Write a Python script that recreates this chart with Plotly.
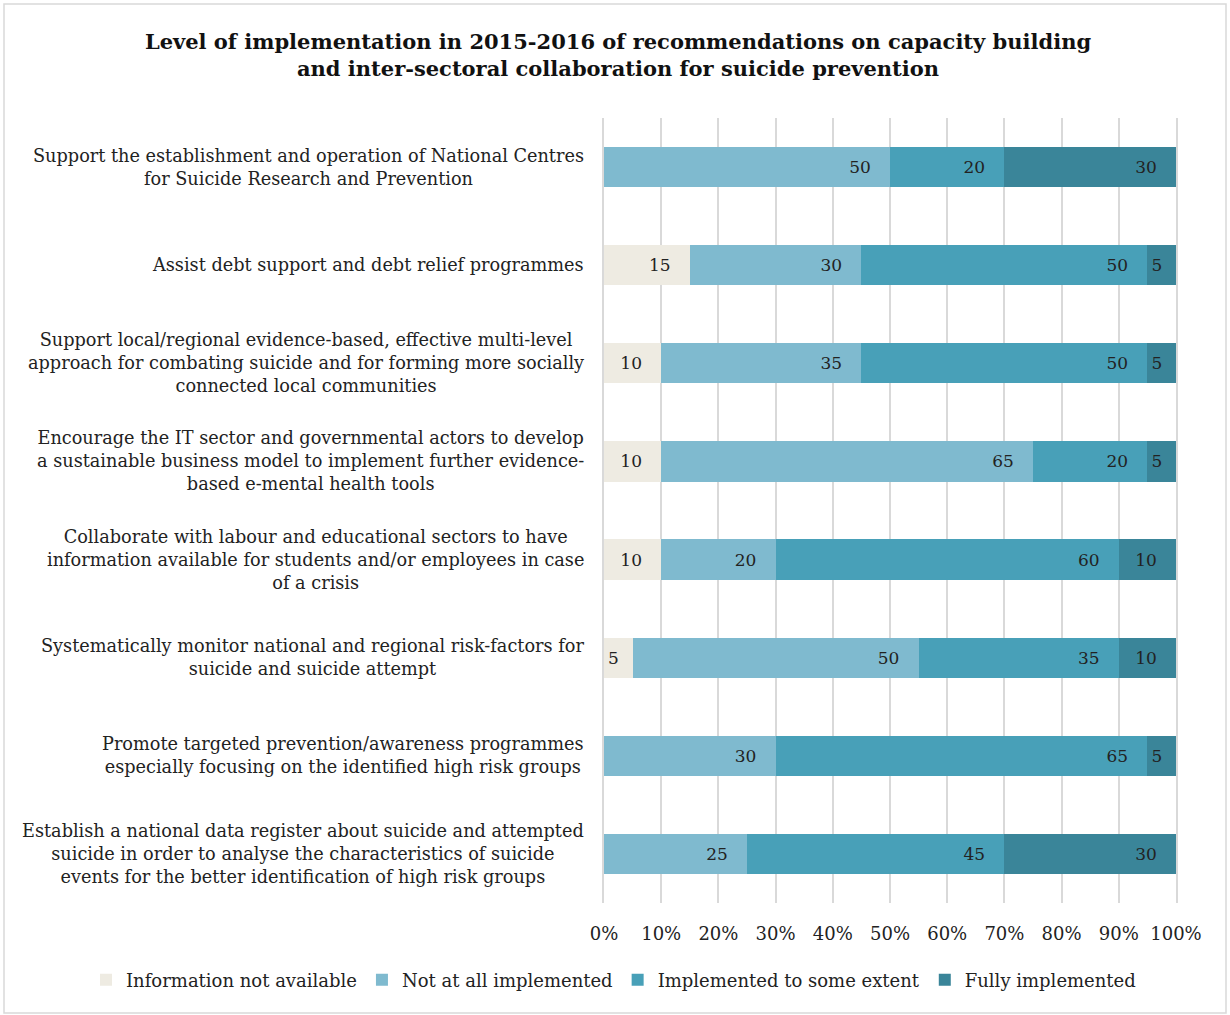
import plotly.graph_objects as go

categories = [
    "Support the establishment and operation of National Centres<br>for Suicide Research and Prevention",
    "Assist debt support and debt relief programmes",
    "Support local/regional evidence-based, effective multi-level<br>approach for combating suicide and for forming more socially<br>connected local communities",
    "Encourage the IT sector and governmental actors to develop<br>a sustainable business model to implement further evidence-<br>based e-mental health tools",
    "Collaborate with labour and educational sectors to have<br>information available for students and/or employees in case<br>of a crisis",
    "Systematically monitor national and regional risk-factors for<br>suicide and suicide attempt",
    "Promote targeted prevention/awareness programmes<br>especially focusing on the identified high risk groups",
    "Establish a national data register about suicide and attempted<br>suicide in order to analyse the characteristics of suicide<br>events for the better identification of high risk groups",
]

not_available = [0, 15, 10, 10, 10, 5, 0, 0]
not_at_all = [50, 30, 35, 65, 20, 50, 30, 25]
some_extent = [20, 50, 50, 20, 60, 35, 65, 45]
fully = [30, 5, 5, 5, 10, 10, 5, 30]

series = [
    ("Information not available", not_available, "#EEEBE2"),
    ("Not at all implemented", not_at_all, "#7FBACF"),
    ("Implemented to some extent", some_extent, "#48A0B8"),
    ("Fully implemented", fully, "#3A8599"),
]

FONT = "DejaVu Serif"
NBSP = "\u00a0"
GRID = "#D9D9D9"


def label(v):
    # value labels sit at the inner end of each segment with some right padding
    if not v:
        return ""
    return str(v) + NBSP * (3 if v >= 10 else 2)


fig = go.Figure()
for name, vals, color in series:
    fig.add_trace(go.Bar(
        name=name,
        y=categories,
        x=vals,
        orientation="h",
        marker=dict(color=color, line=dict(width=0)),
        text=[label(v) for v in vals],
        textposition="inside",
        insidetextanchor="end",
        textangle=0,
        textfont=dict(family=FONT, size=17, color="#222222"),
        hoverinfo="skip",
    ))

# category labels: multi-line blocks, lines centred within each block
for cat in categories:
    fig.add_annotation(
        text=cat, xref="paper", yref="y",
        x=-18 / 572, y=cat,
        xanchor="right", yanchor="middle", align="center",
        showarrow=False,
        font=dict(family=FONT, size=17.7, color="#222222"),
    )

fig.update_layout(
    barmode="stack",
    bargap=0.59,
    width=1230,
    height=1015,
    paper_bgcolor="white",
    plot_bgcolor="white",
    margin=dict(l=604, r=54, t=118, b=112, autoexpand=False),
    font=dict(family=FONT, size=18, color="#222222"),
    uniformtext=dict(minsize=17, mode="show"),
    title=dict(
        text="<b>Level of implementation in 2015-2016 of recommendations on capacity building<br>and inter-sectoral collaboration for suicide prevention</b>",
        x=618 / 1230, xref="container", xanchor="center",
        y=0.952, yref="container", yanchor="top",
        font=dict(family=FONT, size=21, color="#111111"),
    ),
    xaxis=dict(
        range=[0, 100],
        tickvals=[0, 10, 20, 30, 40, 50, 60, 70, 80, 90, 100],
        ticktext=[f"{v}%" for v in range(0, 101, 10)],
        showgrid=True, gridcolor=GRID, gridwidth=2,
        zeroline=False, showline=False,
        ticks="", ticklabelstandoff=18,
        tickfont=dict(family=FONT, size=18),
    ),
    yaxis=dict(
        autorange="reversed",
        showgrid=False, zeroline=False,
        showline=True, mirror=True, linecolor=GRID, linewidth=2,
        layer="below traces",
        ticks="", showticklabels=False,
    ),
    legend=dict(
        orientation="h",
        x=(86 - 604) / 572, xanchor="left",
        y=(903 - 980) / 785, yanchor="middle",
        font=dict(family=FONT, size=18),
        itemwidth=30,
        traceorder="normal",
    ),
    showlegend=True,
)

fig.add_shape(
    type="rect", xref="paper", yref="paper",
    x0=-600 / 572, x1=622 / 572, y0=-110 / 785, y1=899 / 785,
    line=dict(color=GRID, width=1.5), fillcolor="rgba(0,0,0,0)",
    layer="below",
)

fig.write_html("out.html")
